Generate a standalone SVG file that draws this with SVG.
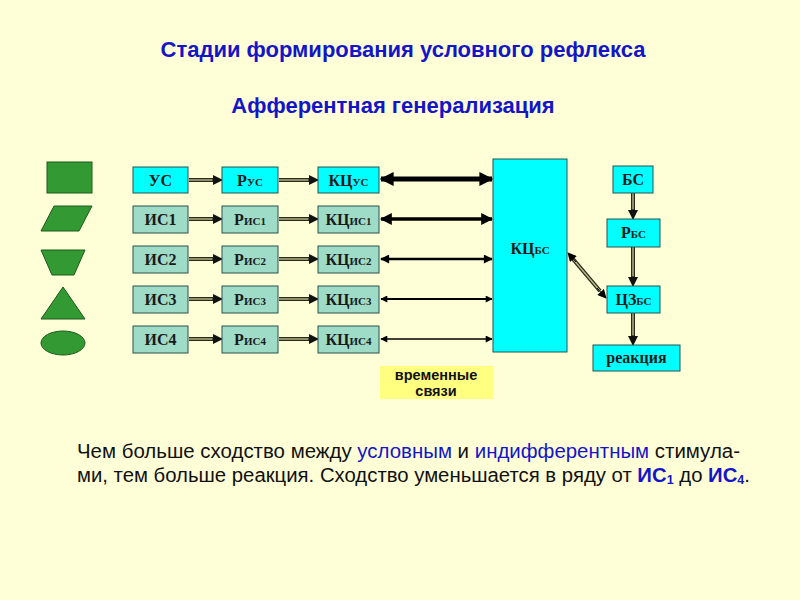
<svg xmlns="http://www.w3.org/2000/svg" width="800" height="600" viewBox="0 0 800 600">
<defs>
<style>
.bg{fill:#FFFFD7}
.cy{fill:#00FFFF;stroke:#2a5050;stroke-width:1}
.tl{fill:#9FDCC8;stroke:#2a5050;stroke-width:1}
.lbl{font-family:"Liberation Serif",serif;font-weight:bold;font-size:16px;fill:#1a1a1a;text-anchor:middle}
.sm{font-size:11px}
.gr{fill:#339933;stroke:#1d5a1d;stroke-width:1}
.ttl{font-family:"Liberation Sans",Arial,sans-serif;font-weight:bold;font-size:22px;fill:#1515C8;text-anchor:middle}
.body{font-family:"Liberation Sans",Arial,sans-serif;font-size:19.5px;fill:#111}
.blue{fill:#1515C8}
.tmp{font-family:"Liberation Sans",Arial,sans-serif;font-weight:bold;font-size:14.5px;fill:#111;text-anchor:middle}
.outer{stroke:#2b2b1a;stroke-width:4;fill:none}
.inner{stroke:#b9b98e;stroke-width:1.4;fill:none}
.dbl{stroke:#000;fill:none}
</style>
<marker id="ah" viewBox="0 0 10 10" refX="9" refY="5" markerWidth="10" markerHeight="10" markerUnits="userSpaceOnUse" orient="auto"><path d="M0,0 L10,5 L0,10 z" fill="#111"/></marker>
<marker id="big" viewBox="0 0 10 10" refX="9" refY="5" markerWidth="14" markerHeight="15" markerUnits="userSpaceOnUse" orient="auto-start-reverse"><path d="M0,0 L10,5 L0,10 z" fill="#000"/></marker>
<marker id="m1" viewBox="0 0 10 10" refX="9" refY="5" markerWidth="12" markerHeight="12" markerUnits="userSpaceOnUse" orient="auto-start-reverse"><path d="M0,0 L10,5 L0,10 z" fill="#000"/></marker>
<marker id="m2" viewBox="0 0 10 10" refX="9" refY="5" markerWidth="10" markerHeight="9" markerUnits="userSpaceOnUse" orient="auto-start-reverse"><path d="M0,0 L10,5 L0,10 z" fill="#000"/></marker>
<marker id="m3" viewBox="0 0 10 10" refX="9" refY="5" markerWidth="8" markerHeight="7" markerUnits="userSpaceOnUse" orient="auto-start-reverse"><path d="M0,0 L10,5 L0,10 z" fill="#000"/></marker>
<marker id="md" viewBox="0 0 10 10" refX="9" refY="5" markerWidth="10" markerHeight="9" markerUnits="userSpaceOnUse" orient="auto-start-reverse"><path d="M0,0 L10,5 L0,10 z" fill="#000"/></marker>
</defs>
<rect class="bg" x="0" y="0" width="800" height="600"/>

<text class="ttl" x="403" y="57">Стадии формирования условного рефлекса</text>
<text class="ttl" x="393" y="113">Афферентная генерализация</text>

<g id="legend">
<rect class="gr" x="47" y="162" width="45" height="31"/>
<polygon class="gr" points="54,206 92,206 79,231 41,231"/>
<polygon class="gr" points="41,250 85,250 74,275 52,275"/>
<polygon class="gr" points="63,287 85,319 41,319"/>
<ellipse class="gr" cx="63" cy="343" rx="22" ry="12"/>
</g>

<g id="connectors">
<g>
<line class="outer" x1="189" y1="180" x2="213" y2="180"/><line class="inner" x1="189" y1="180" x2="213" y2="180"/><line x1="212" y1="180" x2="222" y2="180" stroke="#111" stroke-width="1" marker-end="url(#ah)"/>
<line class="outer" x1="279" y1="180" x2="309" y2="180"/><line class="inner" x1="279" y1="180" x2="309" y2="180"/><line x1="308" y1="180" x2="318" y2="180" stroke="#111" stroke-width="1" marker-end="url(#ah)"/>
<line class="outer" x1="189" y1="219" x2="213" y2="219"/><line class="inner" x1="189" y1="219" x2="213" y2="219"/><line x1="212" y1="219" x2="222" y2="219" stroke="#111" stroke-width="1" marker-end="url(#ah)"/>
<line class="outer" x1="279" y1="219" x2="309" y2="219"/><line class="inner" x1="279" y1="219" x2="309" y2="219"/><line x1="308" y1="219" x2="318" y2="219" stroke="#111" stroke-width="1" marker-end="url(#ah)"/>
<line class="outer" x1="189" y1="259" x2="213" y2="259"/><line class="inner" x1="189" y1="259" x2="213" y2="259"/><line x1="212" y1="259" x2="222" y2="259" stroke="#111" stroke-width="1" marker-end="url(#ah)"/>
<line class="outer" x1="279" y1="259" x2="309" y2="259"/><line class="inner" x1="279" y1="259" x2="309" y2="259"/><line x1="308" y1="259" x2="318" y2="259" stroke="#111" stroke-width="1" marker-end="url(#ah)"/>
<line class="outer" x1="189" y1="299" x2="213" y2="299"/><line class="inner" x1="189" y1="299" x2="213" y2="299"/><line x1="212" y1="299" x2="222" y2="299" stroke="#111" stroke-width="1" marker-end="url(#ah)"/>
<line class="outer" x1="279" y1="299" x2="309" y2="299"/><line class="inner" x1="279" y1="299" x2="309" y2="299"/><line x1="308" y1="299" x2="318" y2="299" stroke="#111" stroke-width="1" marker-end="url(#ah)"/>
<line class="outer" x1="189" y1="339" x2="213" y2="339"/><line class="inner" x1="189" y1="339" x2="213" y2="339"/><line x1="212" y1="339" x2="222" y2="339" stroke="#111" stroke-width="1" marker-end="url(#ah)"/>
<line class="outer" x1="279" y1="339" x2="309" y2="339"/><line class="inner" x1="279" y1="339" x2="309" y2="339"/><line x1="308" y1="339" x2="318" y2="339" stroke="#111" stroke-width="1" marker-end="url(#ah)"/>
</g>
<line class="dbl" x1="381" y1="179" x2="492" y2="179" stroke-width="5" marker-start="url(#big)" marker-end="url(#big)"/>
<line class="dbl" x1="381" y1="219" x2="492" y2="219" stroke-width="3.5" marker-start="url(#m1)" marker-end="url(#m1)"/>
<line class="dbl" x1="381" y1="259" x2="492" y2="259" stroke-width="2.5" marker-start="url(#m2)" marker-end="url(#m2)"/>
<line class="dbl" x1="381" y1="299" x2="492" y2="299" stroke-width="2" marker-start="url(#m3)" marker-end="url(#m3)"/>
<line class="dbl" x1="381" y1="339" x2="492" y2="339" stroke-width="1.5" marker-start="url(#m3)" marker-end="url(#m3)"/>
<line class="outer" x1="573" y1="259" x2="600" y2="291"/><line class="inner" x1="573" y1="259" x2="600" y2="291"/>
<line x1="576" y1="262" x2="568" y2="253" stroke="#000" stroke-width="1" marker-end="url(#md)"/>
<line x1="597" y1="288" x2="606" y2="298" stroke="#000" stroke-width="1" marker-end="url(#md)"/>
<line class="outer" x1="633" y1="193" x2="633" y2="211"/><line class="inner" x1="633" y1="193" x2="633" y2="211"/><line x1="633" y1="209" x2="633" y2="219" stroke="#000" stroke-width="1" marker-end="url(#ah)"/>
<line class="outer" x1="633" y1="247" x2="633" y2="278"/><line class="inner" x1="633" y1="247" x2="633" y2="278"/><line x1="633" y1="276" x2="633" y2="286" stroke="#000" stroke-width="1" marker-end="url(#ah)"/>
<line class="outer" x1="633" y1="313" x2="633" y2="337"/><line class="inner" x1="633" y1="313" x2="633" y2="337"/><line x1="633" y1="335" x2="633" y2="345" stroke="#000" stroke-width="1" marker-end="url(#ah)"/>
</g>

<g id="US"><rect class="cy" x="133" y="167" width="55" height="26"/><text class="lbl" x="160.5" y="185.5">УС</text></g>
<g id="R_US"><rect class="cy" x="222" y="167" width="56" height="26"/><text class="lbl" x="250" y="185.5">Р<tspan class="sm">УС</tspan></text></g>
<g id="KC_US"><rect class="cy" x="318" y="167" width="61" height="26"/><text class="lbl" x="348.5" y="185.5">КЦ<tspan class="sm">УС</tspan></text></g>

<g id="IS1"><rect class="tl" x="133" y="206" width="55" height="27"/><text class="lbl" x="160.5" y="225">ИС1</text></g>
<g id="R_IS1"><rect class="tl" x="222" y="206" width="56" height="27"/><text class="lbl" x="250" y="225">Р<tspan class="sm">ИС1</tspan></text></g>
<g id="KC_IS1"><rect class="tl" x="318" y="206" width="61" height="27"/><text class="lbl" x="348.5" y="225">КЦ<tspan class="sm">ИС1</tspan></text></g>

<g id="IS2"><rect class="tl" x="133" y="246" width="55" height="27"/><text class="lbl" x="160.5" y="265">ИС2</text></g>
<g id="R_IS2"><rect class="tl" x="222" y="246" width="56" height="27"/><text class="lbl" x="250" y="265">Р<tspan class="sm">ИС2</tspan></text></g>
<g id="KC_IS2"><rect class="tl" x="318" y="246" width="61" height="27"/><text class="lbl" x="348.5" y="265">КЦ<tspan class="sm">ИС2</tspan></text></g>

<g id="IS3"><rect class="tl" x="133" y="286" width="55" height="27"/><text class="lbl" x="160.5" y="305">ИС3</text></g>
<g id="R_IS3"><rect class="tl" x="222" y="286" width="56" height="27"/><text class="lbl" x="250" y="305">Р<tspan class="sm">ИС3</tspan></text></g>
<g id="KC_IS3"><rect class="tl" x="318" y="286" width="61" height="27"/><text class="lbl" x="348.5" y="305">КЦ<tspan class="sm">ИС3</tspan></text></g>

<g id="IS4"><rect class="tl" x="133" y="326" width="55" height="27"/><text class="lbl" x="160.5" y="345">ИС4</text></g>
<g id="R_IS4"><rect class="tl" x="222" y="326" width="56" height="27"/><text class="lbl" x="250" y="345">Р<tspan class="sm">ИС4</tspan></text></g>
<g id="KC_IS4"><rect class="tl" x="318" y="326" width="61" height="27"/><text class="lbl" x="348.5" y="345">КЦ<tspan class="sm">ИС4</tspan></text></g>

<g id="KC_BS"><rect class="cy" x="493" y="159" width="74" height="193"/><text class="lbl" x="530" y="254">КЦ<tspan class="sm">БС</tspan></text></g>
<g id="BS"><rect class="cy" x="613" y="166" width="40" height="27"/><text class="lbl" x="633" y="185">БС</text></g>
<g id="R_BS"><rect class="cy" x="607" y="219" width="53" height="28"/><text class="lbl" x="633.5" y="238">Р<tspan class="sm">БС</tspan></text></g>
<g id="CZ_BS"><rect class="cy" x="607" y="286" width="53" height="27"/><text class="lbl" x="633.5" y="305">ЦЗ<tspan class="sm">БС</tspan></text></g>
<g id="reaction"><rect class="cy" x="593" y="345" width="87" height="26"/><text class="lbl" x="636.5" y="363">реакция</text></g>

<g id="temp_links"><rect x="380" y="366" width="113" height="33" fill="#FFFF80"/>
<text class="tmp" x="436" y="380">временные</text>
<text class="tmp" x="436" y="396">связи</text></g>

<text class="body" x="77" y="458" textLength="663" lengthAdjust="spacingAndGlyphs">Чем больше сходство между <tspan class="blue">условным</tspan> и <tspan class="blue">индифферентным</tspan> стимула-</text>
<text class="body" x="77" y="482" textLength="673" lengthAdjust="spacingAndGlyphs">ми, тем больше реакция. Сходство уменьшается в ряду от <tspan class="blue" font-weight="bold">ИС</tspan><tspan class="blue" font-weight="bold" font-size="12" dy="2">1</tspan><tspan dy="-2"> до </tspan><tspan class="blue" font-weight="bold">ИС</tspan><tspan class="blue" font-weight="bold" font-size="12" dy="2">4</tspan><tspan dy="-2">.</tspan></text>
</svg>
